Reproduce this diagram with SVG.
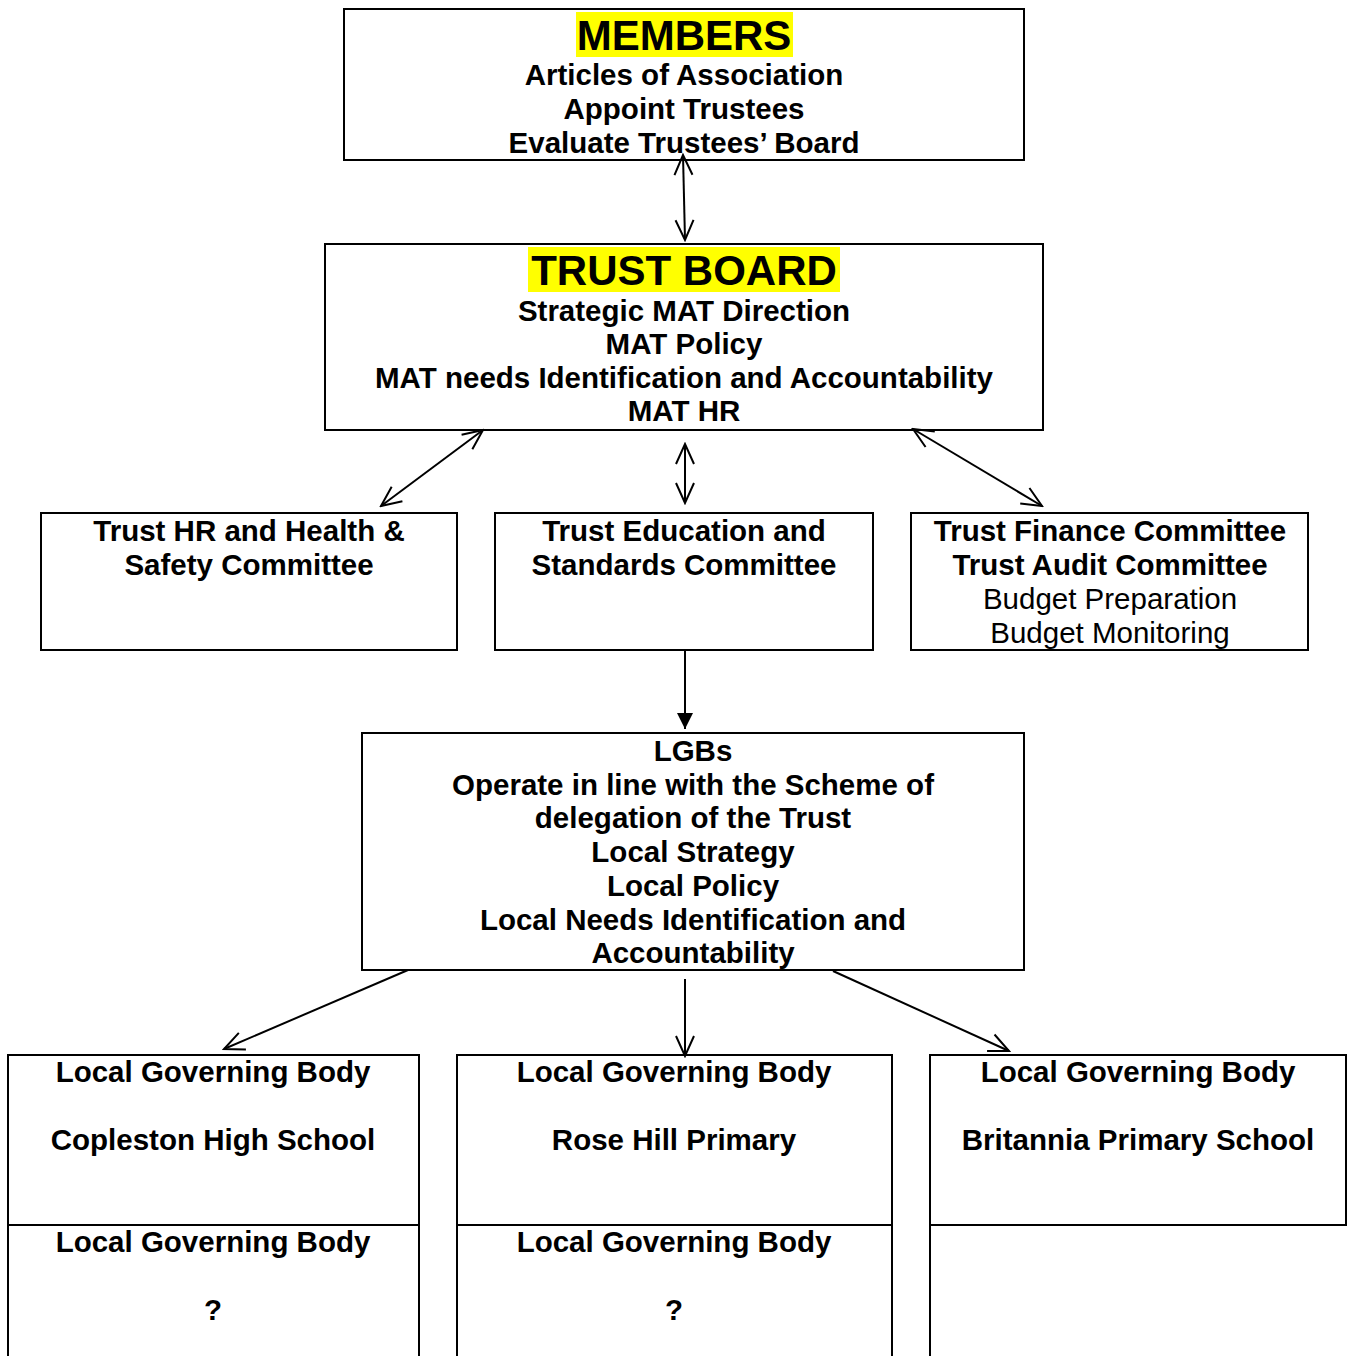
<svg xmlns="http://www.w3.org/2000/svg" width="1353" height="1356" viewBox="0 0 1353 1356">
<style>
.box{fill:#fff;stroke:#000;stroke-width:2}
.ln{fill:none;stroke:#000;stroke-width:2}
text{font-family:"Liberation Sans",Arial,sans-serif;font-size:29.5px;text-anchor:middle;fill:#000}
.b{font-weight:bold}
.big{font-size:42px;font-weight:bold}
.hl{fill:#ffff00}
</style>
<defs>
<marker id="open" viewBox="0 0 24 24" refX="22" refY="12" markerWidth="24" markerHeight="24" markerUnits="userSpaceOnUse" orient="auto-start-reverse">
<path d="M2,3 L22,12 L2,21" fill="none" stroke="#000" stroke-width="2"/>
</marker>
<marker id="solid" viewBox="0 0 16 16" refX="16" refY="8" markerWidth="16" markerHeight="16" markerUnits="userSpaceOnUse" orient="auto">
<path d="M0,0 L16,8 L0,16 Z" fill="#000"/>
</marker>
</defs>
<rect width="1353" height="1356" fill="#fff"/>

<g id="members">
<rect class="box" x="344" y="9" width="680" height="151"/>
<rect class="hl" x="576" y="12" width="217" height="45"/>
<text class="big" x="684" y="50">MEMBERS</text>
<text class="b" x="684" y="85">Articles of Association</text>
<text class="b" x="684" y="119">Appoint Trustees</text>
<text class="b" x="684" y="153">Evaluate Trustees’ Board</text>
</g>

<g id="trust-board">
<rect class="box" x="325" y="244" width="718" height="186"/>
<rect class="hl" x="528" y="247" width="312" height="45"/>
<text class="big" x="684" y="285">TRUST BOARD</text>
<text class="b" x="684" y="321">Strategic MAT Direction</text>
<text class="b" x="684" y="354">MAT Policy</text>
<text class="b" x="684" y="388">MAT needs Identification and Accountability</text>
<text class="b" x="684" y="421">MAT HR</text>
</g>

<g id="hr-committee">
<rect class="box" x="41" y="513" width="416" height="137"/>
<text class="b" x="249" y="541">Trust HR and Health &amp;</text>
<text class="b" x="249" y="575">Safety Committee</text>
</g>

<g id="education-committee">
<rect class="box" x="495" y="513" width="378" height="137"/>
<text class="b" x="684" y="541">Trust Education and</text>
<text class="b" x="684" y="575">Standards Committee</text>
</g>

<g id="finance-committee">
<rect class="box" x="911" y="513" width="397" height="137"/>
<text class="b" x="1110" y="541">Trust Finance Committee</text>
<text class="b" x="1110" y="575">Trust Audit Committee</text>
<text x="1110" y="609">Budget Preparation</text>
<text x="1110" y="643">Budget Monitoring</text>
</g>

<g id="lgbs">
<rect class="box" x="362" y="733" width="662" height="237"/>
<text class="b" x="693" y="761">LGBs</text>
<text class="b" x="693" y="795">Operate in line with the Scheme of</text>
<text class="b" x="693" y="828">delegation of the Trust</text>
<text class="b" x="693" y="862">Local Strategy</text>
<text class="b" x="693" y="896">Local Policy</text>
<text class="b" x="693" y="930">Local Needs Identification and</text>
<text class="b" x="693" y="963">Accountability</text>
</g>

<g id="lgb-copleston">
<rect class="box" x="8" y="1055" width="411" height="170"/>
<text class="b" x="213" y="1082">Local Governing Body</text>
<text class="b" x="213" y="1150">Copleston High School</text>
</g>

<g id="lgb-rosehill">
<rect class="box" x="457" y="1055" width="435" height="170"/>
<text class="b" x="674" y="1082">Local Governing Body</text>
<text class="b" x="674" y="1150">Rose Hill Primary</text>
</g>

<g id="lgb-britannia">
<rect class="box" x="930" y="1055" width="416" height="170"/>
<text class="b" x="1138" y="1082">Local Governing Body</text>
<text class="b" x="1138" y="1150">Britannia Primary School</text>
</g>

<g id="lgb-unknown-1">
<path class="ln" d="M8,1358 L8,1225 L419,1225 L419,1358"/>
<text class="b" x="213" y="1252">Local Governing Body</text>
<text class="b" x="213" y="1320">?</text>
</g>

<g id="lgb-unknown-2">
<path class="ln" d="M457,1358 L457,1225 L892,1225 L892,1358"/>
<text class="b" x="674" y="1252">Local Governing Body</text>
<text class="b" x="674" y="1320">?</text>
</g>

<g id="lgb-empty">
<path class="ln" d="M930,1225 L930,1358"/>
</g>

<g id="connectors">
<line class="ln" x1="683" y1="155" x2="685" y2="240" marker-start="url(#open)" marker-end="url(#open)"/>
<line class="ln" x1="483" y1="430" x2="381" y2="506" marker-start="url(#open)" marker-end="url(#open)"/>
<line class="ln" x1="685" y1="444" x2="685" y2="503" marker-start="url(#open)" marker-end="url(#open)"/>
<line class="ln" x1="913" y1="429" x2="1042" y2="506" marker-start="url(#open)" marker-end="url(#open)"/>
<line class="ln" x1="685" y1="650" x2="685" y2="729" marker-end="url(#solid)"/>
<line class="ln" x1="408" y1="970" x2="224" y2="1049" marker-end="url(#open)"/>
<line class="ln" x1="685" y1="979" x2="685" y2="1056" marker-end="url(#open)"/>
<line class="ln" x1="833" y1="971" x2="1009" y2="1051" marker-end="url(#open)"/>
</g>
</svg>
